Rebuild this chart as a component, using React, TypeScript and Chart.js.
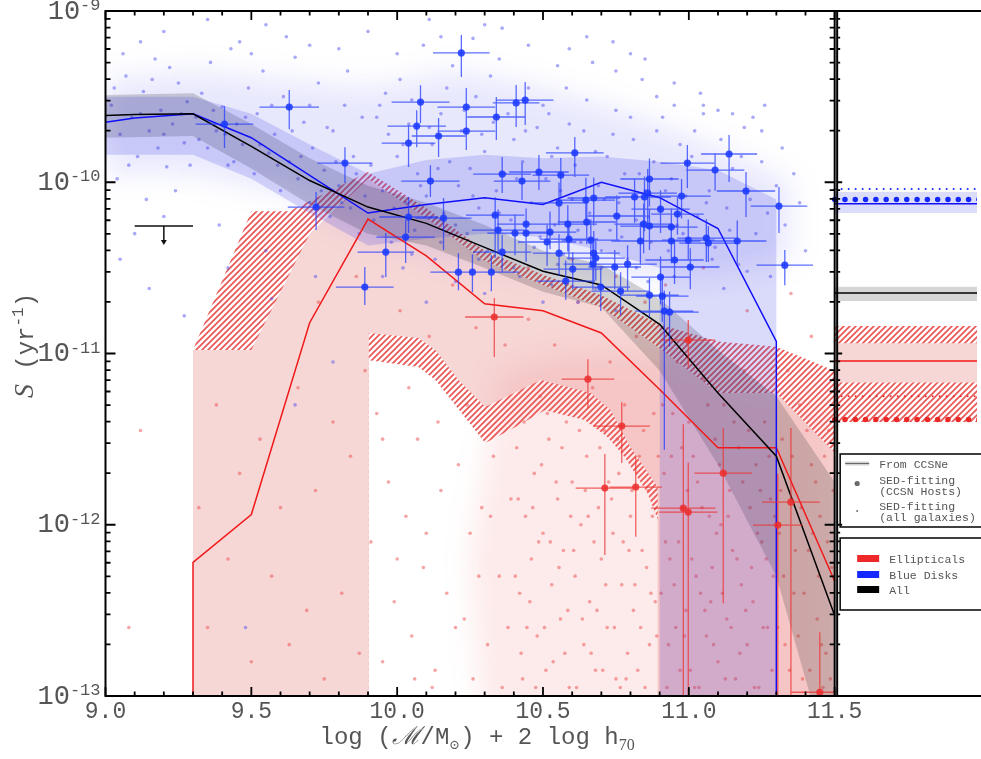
import { useEffect, useRef } from 'react';
import { Chart, registerables } from 'chart.js';

Chart.register(...registerables);

// ---------- axes ----------
const MASS_MIN = 9.0;
const MASS_EDGE = 11.5; // right edge of the main panel
const MASS_MAX = 11.988; // right edge of the side panel
const LOG_MIN = -13;
const LOG_MAX = -9;
const xTickLabels = ['9.0', '9.5', '10.0', '10.5', '11.0', '11.5'];
const yDecades = [-9, -10, -11, -12, -13];

// ---------- binned SN rate curves: [log mass, log10 S] ----------
const allCurve = [
  [9.0, -9.61], [9.1, -9.605], [9.3, -9.6], [9.5, -9.79], [9.7, -9.99], [9.9, -10.145],
  [10.1, -10.24], [10.3, -10.38], [10.5, -10.52], [10.7, -10.6], [10.9, -10.83],
  [11.1, -11.23], [11.3, -11.6], [11.5, -12.53],
];
const blueDiskCurve = [
  [9.0, -9.65], [9.1, -9.625], [9.3, -9.6], [9.5, -9.74], [9.7, -9.96], [9.9, -10.18],
  [10.1, -10.13], [10.3, -10.09], [10.5, -10.13], [10.7, -10.0], [10.9, -10.09],
  [11.1, -10.27], [11.3, -10.93], [11.3, -14],
];
const ellipticalCurve = [
  [9.3, -14], [9.3, -12.22], [9.5, -11.94], [9.7, -10.82], [9.9, -10.215], [10.1, -10.43],
  [10.3, -10.71], [10.5, -10.75], [10.7, -10.88], [10.9, -11.21], [11.1, -11.55],
  [11.3, -11.55], [11.5, -12.33],
];

// ---------- uncertainty envelopes (closed outlines): [log mass, log10 S] ----------
const allBand = [
  [9.0, -9.49], [9.3, -9.48], [9.5, -9.66], [9.7, -9.86], [9.9, -10.02], [10.1, -10.12],
  [10.3, -10.25], [10.5, -10.4], [10.7, -10.48], [10.9, -10.68], [11.1, -10.98],
  [11.3, -11.25], [11.5, -11.75], [11.5, -13.5], [11.3, -12.3], [11.1, -11.65],
  [10.9, -11.1], [10.7, -10.73], [10.5, -10.64], [10.3, -10.5], [10.1, -10.37],
  [9.9, -10.3], [9.7, -10.13], [9.5, -9.92], [9.3, -9.73], [9.0, -9.74],
];
const blueDiskBand = [
  [9.0, -9.5], [9.3, -9.5], [9.5, -9.6], [9.7, -9.78], [9.9, -9.95], [10.1, -9.87],
  [10.3, -9.84], [10.5, -9.86], [10.7, -9.85], [10.9, -9.88], [11.1, -9.93], [11.3, -10.1],
  [11.3, -14], [10.9, -14], [10.9, -10.5], [10.7, -10.4], [10.5, -10.32], [10.3, -10.3],
  [10.1, -10.33], [9.9, -10.37], [9.7, -10.18], [9.5, -9.98], [9.3, -9.84], [9.0, -9.84],
];
const ellipticalBand = [
  [9.3, -14], [9.3, -10.98], [9.5, -10.98], [9.7, -10.3], [9.9, -9.98], [10.1, -10.21],
  [10.3, -10.46], [10.5, -10.6], [10.7, -10.73], [10.9, -10.97], [11.1, -11.23],
  [11.3, -11.23], [11.5, -11.58], [11.5, -14], [10.893, -14], [10.893, -11.78],
  [10.8, -11.547], [10.732, -11.331], [10.664, -11.231], [10.493, -11.155],
  [10.302, -11.313], [10.21, -11.155], [10.131, -10.98], [10.073, -10.91],
  [9.903, -10.881], [9.903, -14],
];
const ellipticalOuterBand = [
  [9.3, -14], [9.3, -10.98], [9.5, -10.17], [9.63, -10.17], [9.9, -9.94], [10.1, -10.15],
  [10.3, -10.4], [10.5, -10.54], [10.7, -10.66], [10.9, -10.83], [11.1, -10.93],
  [11.3, -10.96], [11.5, -11.1], [11.5, -14], [10.903, -14], [10.903, -12.01],
  [10.858, -11.815], [10.78, -11.605], [10.721, -11.488], [10.643, -11.389],
  [10.506, -11.331], [10.404, -11.43], [10.302, -11.523], [10.131, -11.155],
  [10.073, -11.079], [9.903, -11.039], [9.903, -14],
];

// ---------- CCSN hosts: [log mass, log10 S, ±mass err, +S err, -S err] ----------
const blueDiskHosts = [
  [9.408, -9.66, 0.099, 0.105, 0.14], [9.63, -9.561, 0.102, 0.099, 0.129],
  [10.22, -9.245, 0.097, 0.105, 0.14], [10.08, -9.532, 0.099, 0.099, 0.123],
  [10.237, -9.561, 0.099, 0.111, 0.105], [10.408, -9.537, 0.08, 0.105, 0.14],
  [10.439, -9.52, 0.097, 0.105, 0.146], [10.34, -9.619, 0.1, 0.117, 0.134],
  [10.067, -9.672, 0.1, 0.093, 0.123], [10.142, -9.73, 0.092, 0.105, 0.123],
  [10.237, -9.701, 0.099, 0.105, 0.111], [10.039, -9.771, 0.092, 0.105, 0.14],
  [10.609, -9.829, 0.099, 0.093, 0.14], [9.821, -9.888, 0.094, 0.093, 0.117],
  [10.114, -9.993, 0.1, 0.093, 0.093], [10.36, -9.952, 0.099, 0.099, 0.111],
  [10.428, -9.993, 0.097, 0.105, 0.111], [10.486, -9.94, 0.102, 0.099, 0.105],
  [10.561, -9.958, 0.097, 0.099, 0.128], [9.722, -10.145, 0.097, 0.088, 0.134],
  [10.039, -10.203, 0.1, 0.117, 0.093], [10.159, -10.209, 0.096, 0.117, 0.187],
  [10.029, -10.32, 0.1, 0.099, 0.152], [9.961, -10.408, 0.097, 0.111, 0.146],
  [9.889, -10.612, 0.099, 0.117, 0.105], [10.21, -10.525, 0.096, 0.111, 0.105],
  [10.258, -10.525, 0.094, 0.105, 0.117], [10.323, -10.525, 0.094, 0.099, 0.111],
  [10.336, -10.192, 0.1, 0.105, 0.25], [10.346, -10.279, 0.09, 0.12, 0.14],
  [10.404, -10.297, 0.095, 0.11, 0.13], [10.36, -10.408, 0.1, 0.1, 0.12],
  [10.442, -10.244, 0.1, 0.09, 0.22], [10.442, -10.297, 0.09, 0.13, 0.11],
  [10.514, -10.349, 0.1, 0.1, 0.14], [10.524, -10.291, 0.09, 0.12, 0.1],
  [10.585, -10.244, 0.1, 0.11, 0.16], [10.589, -10.332, 0.1, 0.1, 0.12],
  [10.555, -10.414, 0.09, 0.11, 0.13], [10.602, -10.507, 0.1, 0.1, 0.12],
  [10.578, -10.577, 0.1, 0.12, 0.11], [10.555, -10.121, 0.1, 0.12, 0.13],
  [10.995, -9.888, 0.092, 0.105, 0.146], [11.138, -9.835, 0.096, 0.111, 0.164],
  [11.09, -9.929, 0.1, 0.1, 0.12], [11.196, -10.051, 0.1, 0.111, 0.152],
  [11.309, -10.139, 0.097, 0.111, 0.158], [11.329, -10.484, 0.097, 0.088, 0.117],
  [10.865, -9.981, 0.1, 0.12, 0.16], [10.859, -10.063, 0.1, 0.14, 0.18],
  [10.814, -10.086, 0.1, 0.1, 0.15], [10.848, -10.086, 0.09, 0.12, 0.2],
  [10.975, -10.081, 0.1, 0.1, 0.13], [10.903, -10.157, 0.1, 0.11, 0.14],
  [10.961, -10.186, 0.09, 0.1, 0.12], [10.753, -10.197, 0.1, 0.12, 0.15],
  [10.647, -10.104, 0.1, 0.13, 0.14], [10.674, -10.092, 0.09, 0.12, 0.16],
  [10.65, -10.232, 0.1, 0.11, 0.13], [10.845, -10.244, 0.1, 0.12, 0.17],
  [10.865, -10.256, 0.1, 0.1, 0.14], [10.94, -10.262, 0.09, 0.11, 0.12],
  [10.664, -10.338, 0.1, 0.12, 0.15], [10.834, -10.343, 0.1, 0.11, 0.14],
  [10.94, -10.343, 0.1, 0.1, 0.13], [10.998, -10.338, 0.09, 0.12, 0.12],
  [11.06, -10.326, 0.1, 0.11, 0.14], [11.067, -10.355, 0.1, 0.1, 0.11],
  [11.166, -10.343, 0.1, 0.12, 0.13], [10.674, -10.414, 0.09, 0.13, 0.17],
  [10.681, -10.443, 0.1, 0.1, 0.13], [10.671, -10.478, 0.1, 0.12, 0.15],
  [10.79, -10.478, 0.1, 0.11, 0.16], [10.746, -10.495, 0.09, 0.1, 0.13],
  [10.951, -10.454, 0.1, 0.12, 0.14], [11.005, -10.495, 0.1, 0.11, 0.13],
  [10.903, -10.554, 0.1, 0.12, 0.16], [10.766, -10.636, 0.1, 0.11, 0.14],
  [10.865, -10.659, 0.1, 0.1, 0.13], [10.909, -10.665, 0.09, 0.12, 0.15],
  [10.698, -10.612, 0.1, 0.11, 0.14], [10.916, -10.752, 0.1, 0.12, 0.81],
  [10.934, -10.758, 0.1, 0.12, 0.2],
];
const ellipticalHosts = [
  [10.333, -10.787, 0.1, 0.111, 0.234], [10.654, -11.15, 0.09, 0.117, 0.169],
  [10.77, -11.424, 0.097, 0.14, 0.216], [10.712, -11.786, 0.1, 0.199, 0.39],
  [10.818, -11.78, 0.09, 0.175, 0.29], [10.998, -10.922, 0.092, 0.117, 0.158],
  [10.981, -11.903, 0.11, 0.49, 2.0], [10.998, -11.926, 0.1, 0.29, 2.0],
  [11.118, -11.699, 0.099, 0.263, 0.76], [11.35, -11.868, 0.099, 0.433, 2.0],
  [11.305, -12.002, 0.085, 0.3, 2.0], [11.449, -12.978, 0.1, 0.35, 2.0],
];

// ---------- SED-fitting, all galaxies: [log mass, log10 S] ----------
const blueDiskGalaxies = [
  [9.02, -9.55], [9.05, -9.72], [9.07, -9.38], [9.09, -9.62], [9.11, -9.85], [9.13, -9.47],
  [9.15, -9.7], [9.17, -9.28], [9.19, -9.58], [9.21, -9.91], [9.23, -9.66], [9.25, -9.42],
  [9.27, -9.77], [9.04, -9.98], [9.14, -10.1], [9.24, -10.05], [9.28, -9.53], [9.18, -9.8],
  [9.06, -9.25], [9.22, -9.33], [9.31, -9.62], [9.33, -9.48], [9.35, -9.8], [9.36, -9.3],
  [9.38, -9.7], [9.4, -9.56], [9.42, -9.9], [9.43, -9.22], [9.45, -9.66], [9.47, -9.78],
  [9.49, -9.45], [9.51, -9.95], [9.52, -9.6], [9.54, -9.35], [9.56, -9.83], [9.58, -9.72],
  [9.6, -10.05], [9.61, -9.5], [9.63, -9.88], [9.65, -9.27], [9.66, -9.98], [9.68, -9.65],
  [9.7, -10.12], [9.71, -9.8], [9.73, -9.42], [9.75, -9.93], [9.77, -10.2], [9.78, -9.7],
  [9.8, -10.02], [9.82, -9.55], [9.84, -10.15], [9.85, -9.85], [9.87, -10.3], [9.88, -9.62],
  [9.39, -10.25], [9.55, -10.4], [9.72, -10.55], [9.46, -9.18], [9.62, -9.15], [9.83, -9.35],
  [9.91, -9.9], [9.92, -10.22], [9.94, -9.55], [9.95, -10.05], [9.97, -9.72], [9.98, -10.35],
  [10.0, -9.85], [10.01, -9.4], [10.03, -10.12], [10.04, -9.66], [10.06, -10.28], [10.07, -9.95],
  [10.09, -9.2], [10.1, -10.08], [10.12, -9.78], [10.13, -10.45], [10.15, -9.6], [10.16, -10.18],
  [10.18, -9.88], [10.19, -9.32], [10.21, -10.02], [10.22, -9.7], [10.24, -10.3], [10.25, -9.92],
  [10.27, -9.5], [10.28, -10.15], [10.3, -9.82], [10.31, -10.4], [10.33, -9.65], [10.34, -10.05],
  [10.36, -9.1], [10.37, -9.95], [10.39, -10.22], [10.4, -9.75], [10.42, -10.55], [10.43, -9.88],
  [10.45, -9.45], [10.46, -10.12], [10.48, -9.68], [10.49, -10.32], [10.02, -10.5], [10.2, -10.58],
  [10.35, -9.28], [10.11, -9.05], [10.26, -9.16], [10.51, -9.98], [10.52, -9.6], [10.54, -10.25],
  [10.55, -9.8], [10.57, -10.42], [10.58, -9.45], [10.6, -10.1], [10.61, -9.9], [10.63, -10.35],
  [10.64, -9.7], [10.66, -10.18], [10.67, -9.3], [10.69, -10.02], [10.7, -10.5], [10.72, -9.85],
  [10.73, -10.28], [10.75, -9.58], [10.76, -10.12], [10.78, -9.95], [10.79, -10.45], [10.81, -9.75],
  [10.82, -10.22], [10.84, -9.4], [10.85, -10.05], [10.87, -10.35], [10.88, -9.88], [10.9, -10.15],
  [10.91, -9.62], [10.93, -10.4], [10.94, -9.98], [10.96, -10.25], [10.97, -9.78], [10.99, -10.08],
  [10.53, -10.6], [10.68, -10.62], [10.86, -10.58], [10.59, -9.22], [10.74, -9.18], [10.89, -9.5],
  [10.62, -10.7], [10.8, -9.25], [11.01, -9.85], [11.03, -10.2], [11.05, -9.6], [11.07, -10.05],
  [11.09, -10.38], [11.11, -9.75], [11.13, -10.15], [11.15, -9.92], [11.17, -10.48], [11.19, -9.68],
  [11.21, -10.1], [11.23, -10.3], [11.25, -9.88], [11.28, -10.55], [11.3, -10.02], [11.33, -10.25],
  [11.36, -9.95], [11.4, -10.4], [11.04, -9.48], [11.26, -9.55], [11.12, -10.62], [9.05, -10.45],
  [9.15, -10.62], [9.27, -10.78], [9.42, -10.5], [9.57, -10.68], [9.65, -11.3], [9.78, -11.05],
  [9.48, -12.6], [9.93, -9.62], [9.96, -9.48], [9.99, -10.15], [10.02, -9.78], [10.05, -9.52],
  [10.08, -10.02], [10.11, -9.68], [10.14, -9.92], [10.17, -9.45], [10.2, -10.25], [10.23, -9.58],
  [10.26, -10.08], [10.29, -9.72], [10.32, -9.38], [10.35, -10.18], [10.38, -9.6], [10.41, -9.98],
  [10.44, -9.7], [10.47, -10.38], [10.5, -9.55], [10.53, -9.85], [10.56, -10.05], [10.59, -9.66],
  [10.62, -10.28], [10.65, -9.52], [10.68, -9.82], [10.71, -10.1], [10.74, -9.72], [10.77, -10.32],
  [10.8, -9.62], [10.83, -9.95], [10.86, -10.2], [10.89, -9.7], [10.92, -10.05], [10.95, -9.55],
  [10.98, -10.3], [11.02, -9.7], [11.06, -10.12], [11.1, -9.58], [11.14, -10.28], [11.18, -9.85],
  [11.22, -9.62], [11.27, -10.18], [11.32, -9.8], [11.38, -10.12], [9.2, -9.12], [9.35, -9.05],
  [9.55, -9.08], [9.7, -9.2], [9.9, -9.12], [10.0, -9.25], [10.15, -9.15], [10.3, -9.08],
  [10.45, -9.2], [10.55, -9.32], [10.65, -9.15], [10.75, -9.35], [10.85, -9.28], [10.95, -9.42],
  [11.05, -9.55], [11.15, -9.6], [11.25, -9.7], [9.12, -9.18], [9.5, -9.25], [9.8, -9.22],
  [9.32, -9.75], [9.37, -9.58], [9.41, -9.72], [9.44, -9.88], [9.48, -9.62], [9.53, -9.78],
  [9.57, -9.55], [9.59, -9.9], [9.64, -9.7], [9.67, -9.85], [9.7, -9.55], [9.74, -10.05],
  [9.76, -9.68], [9.79, -9.88], [9.81, -10.12], [9.86, -9.95], [9.89, -10.08], [9.03, -9.45],
  [9.08, -9.9], [9.12, -9.6], [9.16, -9.4], [9.2, -9.72], [9.26, -9.6], [9.29, -9.9],
  [9.1, -10.3], [9.2, -10.2], [10.05, -10.42], [10.15, -10.35], [10.28, -10.45], [10.4, -10.5],
  [10.55, -10.48], [10.7, -10.4], [10.82, -10.5], [10.95, -10.55], [11.08, -10.45], [11.2, -10.52],
  [9.95, -10.55], [10.1, -10.7], [10.3, -10.65], [10.5, -10.7], [10.75, -10.75],
];
const ellipticalGalaxies = [
  [9.32, -11.9], [9.35, -12.6], [9.38, -11.3], [9.42, -12.2], [9.46, -11.7], [9.5, -12.8],
  [9.53, -11.5], [9.57, -12.3], [9.6, -11.9], [9.63, -12.7], [9.66, -11.2], [9.69, -12.5],
  [9.72, -11.8], [9.75, -12.9], [9.78, -11.4], [9.81, -12.4], [9.84, -11.6], [9.87, -12.75],
  [9.89, -11.1], [9.73, -10.7], [9.86, -10.55], [9.12, -11.45], [9.08, -12.6], [9.91, -12.1],
  [9.93, -11.35], [9.95, -12.8], [9.97, -11.75], [9.99, -12.45], [10.01, -10.75], [10.03, -11.95],
  [10.05, -12.65], [10.07, -11.5], [10.09, -12.25], [10.11, -10.9], [10.13, -12.85], [10.15, -11.8],
  [10.17, -12.4], [10.19, -10.6], [10.21, -11.65], [10.23, -12.55], [10.25, -12.05], [10.27, -10.85],
  [10.29, -11.9], [10.31, -12.7], [10.33, -11.6], [10.35, -12.3], [10.37, -10.95], [10.39, -11.85],
  [10.12, -12.95], [10.26, -12.9], [10.04, -11.2], [10.36, -12.95], [10.41, -11.55], [10.42, -12.4],
  [10.43, -12.9], [10.44, -11.95], [10.45, -10.8], [10.46, -12.2], [10.47, -11.7], [10.48, -12.65],
  [10.49, -11.25], [10.5, -12.05], [10.51, -12.85], [10.52, -11.5], [10.53, -12.35], [10.54, -10.95],
  [10.55, -11.85], [10.56, -12.55], [10.57, -12.15], [10.58, -11.4], [10.59, -12.95], [10.6, -11.75],
  [10.61, -12.3], [10.62, -10.7], [10.63, -12.0], [10.64, -12.7], [10.65, -11.6], [10.66, -12.45],
  [10.67, -11.2], [10.68, -12.85], [10.69, -11.9], [10.7, -12.2], [10.71, -11.45], [10.72, -12.6],
  [10.73, -11.05], [10.74, -12.05], [10.75, -12.9], [10.76, -11.7], [10.77, -12.35], [10.78, -11.3],
  [10.79, -12.75], [10.8, -11.95], [10.81, -12.5], [10.82, -10.9], [10.83, -11.6], [10.84, -12.15],
  [10.85, -12.95], [10.86, -11.8], [10.87, -12.4], [10.88, -11.35], [10.89, -12.65], [10.445, -12.6],
  [10.575, -12.75], [10.685, -12.5], [10.735, -11.85], [10.795, -12.15], [10.655, -11.95],
  [10.525, -12.1], [10.615, -12.95], [10.765, -12.95], [10.835, -12.6], [10.91, -11.3],
  [10.92, -12.1], [10.93, -12.7], [10.94, -11.6], [10.95, -12.35], [10.96, -11.05], [10.97, -12.85],
  [10.98, -11.9], [10.99, -12.5], [11.0, -11.4], [11.01, -12.2], [11.02, -12.95], [11.03, -11.75],
  [11.04, -12.4], [11.05, -11.15], [11.06, -12.65], [11.07, -11.95], [11.08, -12.25], [11.09, -11.5],
  [11.1, -12.8], [11.11, -12.0], [11.12, -11.3], [11.13, -12.55], [11.14, -11.8], [11.15, -12.15],
  [11.16, -12.9], [11.17, -11.55], [11.18, -12.35], [11.19, -11.1], [11.2, -12.7], [11.21, -11.9],
  [11.22, -12.45], [11.23, -11.65], [11.24, -12.95], [11.25, -12.1], [11.26, -11.4], [11.27, -12.6],
  [11.28, -11.85], [11.29, -12.3], [10.955, -12.6], [11.075, -12.45], [11.31, -12.05], [11.32, -11.5],
  [11.33, -12.7], [11.35, -11.85], [11.36, -12.4], [11.38, -11.3], [11.39, -12.9], [11.41, -12.15],
  [11.42, -11.65], [11.44, -12.55], [11.45, -11.95], [11.47, -12.75], [11.48, -11.45], [11.49, -12.25],
  [11.34, -11.1], [11.46, -12.95], [10.6, -10.45], [10.75, -10.55], [10.92, -10.6], [11.05, -10.5],
  [11.2, -10.75], [10.45, -10.5], [10.85, -10.7], [11.35, -10.65], [11.42, -10.9],
  [10.405, -12.3], [10.415, -11.85], [10.425, -12.75], [10.435, -11.4], [10.455, -12.45],
  [10.465, -11.9], [10.475, -12.95], [10.485, -12.1], [10.495, -11.65], [10.505, -12.6],
  [10.515, -11.35], [10.535, -12.8], [10.545, -11.75], [10.555, -12.25], [10.565, -11.55],
  [10.585, -12.5], [10.595, -11.95], [10.605, -12.15], [10.625, -11.45], [10.635, -12.55],
  [10.645, -11.8], [10.665, -12.75], [10.675, -12.1], [10.695, -11.55], [10.705, -12.85],
  [10.715, -12.35], [10.725, -11.75], [10.745, -12.6], [10.755, -11.5], [10.775, -12.1],
  [10.785, -12.9], [10.805, -11.8], [10.815, -12.35], [10.825, -12.85], [10.845, -11.45],
  [10.855, -12.25], [10.865, -12.7], [10.875, -11.95], [10.885, -12.45], [10.895, -11.6],
  [10.905, -12.4], [10.915, -11.7], [10.925, -12.95], [10.935, -12.2], [10.945, -11.35],
  [10.965, -12.1], [10.975, -11.55], [10.985, -12.65], [10.995, -11.8], [11.005, -12.85],
  [11.015, -11.6], [11.025, -12.3], [11.035, -12.95], [11.045, -11.9], [11.055, -12.5],
  [11.065, -11.3], [11.085, -12.7], [11.095, -12.05], [11.105, -11.65], [11.115, -12.4],
  [11.125, -12.9], [11.135, -11.95], [11.145, -12.6], [11.155, -11.4], [11.165, -12.2],
  [11.175, -12.75], [11.185, -11.75], [11.195, -12.5], [11.205, -11.45], [11.215, -12.25],
  [11.225, -12.95], [11.235, -12.05], [11.245, -11.8], [11.255, -12.6], [11.265, -12.2],
  [11.275, -11.6], [11.285, -12.85], [11.295, -11.95], [11.305, -12.6], [11.315, -11.8],
  [11.325, -12.3], [11.345, -12.85], [11.355, -11.6], [11.365, -12.15], [11.375, -12.65],
  [11.385, -11.9], [11.395, -12.4], [11.405, -11.45], [11.415, -12.85], [11.425, -12.05],
  [11.435, -11.75], [11.445, -12.3], [11.455, -12.7], [11.465, -11.6], [11.475, -12.1],
  [11.485, -12.9], [11.495, -11.8], [9.95, -11.5], [10.0, -12.2], [10.06, -12.9], [10.14, -11.4],
  [10.2, -12.6], [10.24, -11.3], [10.28, -12.3], [10.32, -11.95], [10.38, -12.6], [10.1, -12.05],
];

// dense cores of the two galaxy samples: closed outlines, [log mass, log10 S]
const blueDiskDensity = [
  [9.0, -9.4], [9.3, -9.35], [9.6, -9.4], [9.9, -9.45], [10.2, -9.35], [10.5, -9.45],
  [10.8, -9.6], [11.1, -9.8], [11.35, -10.0], [11.35, -10.45], [11.1, -10.55], [10.8, -10.55],
  [10.5, -10.5], [10.2, -10.45], [9.9, -10.3], [9.6, -10.05], [9.3, -9.95], [9.0, -9.95],
];
const ellipticalDensity = [
  [10.35, -11.1], [10.6, -11.0], [10.9, -11.0], [11.2, -11.2], [11.5, -11.3], [11.5, -13.3],
  [10.3, -13.3], [10.25, -12.2],
];

// ---------- upper limit: [mass from, mass to, log10 S, arrow length] ----------
const upperLimit = [9.1, 9.3, -10.256, 0.11];

// ---------- side panel, rates from CCSNe and SED-fitting (log10 S) ----------
const sideBlue = [-10.125, -10.18, -10.057]; // value, low, high
const sideBlueSed = [-10.1, -10.04]; // hosts, all galaxies
const sideAll = [-10.647, -10.694, -10.61];
const sideEll = [-11.044, -11.17, -10.94];
const sideEllOuter = [-11.4, -10.84];
const sideEllSed = [-11.385, -11.25];

const MONO = '"Liberation Mono", "DejaVu Sans Mono", monospace';
const SERIF = '"Liberation Serif", "DejaVu Serif", serif';
const TEXT = '#555';

const pt = (p: number[]) => ({ x: p[0], y: Math.pow(10, p[1]) });
const pts = (list: number[][]) => list.map(pt);
const sideSpan = (v: number) => pts([[MASS_EDGE, v], [12.1, v]]);
const sideBox = (lo: number, hi: number) =>
  pts([[MASS_EDGE, hi], [12.1, hi], [12.1, lo], [MASS_EDGE, lo]]);

function makeHatch(ctx: CanvasRenderingContext2D) {
  const c = document.createElement('canvas');
  c.width = 6;
  c.height = 6;
  const g = c.getContext('2d')!;
  g.strokeStyle = 'rgba(232,72,72,0.92)';
  g.lineWidth = 1.7;
  g.beginPath();
  g.moveTo(-1, 1); g.lineTo(1, -1);
  g.moveTo(0, 6); g.lineTo(6, 0);
  g.moveTo(5, 7); g.lineTo(7, 5);
  g.stroke();
  return ctx.createPattern(c, 'repeat')!;
}

type Run = [string, string, number];
function drawRuns(ctx: CanvasRenderingContext2D, runs: Run[], x: number, y: number, align: 'center' | 'right' | 'left') {
  let total = 0;
  for (const [t, f] of runs) { ctx.font = f; total += ctx.measureText(t).width; }
  let cx = align === 'center' ? x - total / 2 : align === 'right' ? x - total : x;
  ctx.textAlign = 'left';
  ctx.textBaseline = 'alphabetic';
  for (const [t, f, dy] of runs) {
    ctx.font = f;
    ctx.fillText(t, cx, y + dy);
    cx += ctx.measureText(t).width;
  }
}

// error bars and density tint, drawn just before the dataset they belong to
const underlayPlugin = {
  id: 'underlays',
  beforeDatasetDraw(chart: any, args: any) {
    const ds = chart.data.datasets[args.index];
    if (!ds.errorRows && !ds.density) return;
    const { ctx, scales } = chart;
    const X = (m: number) => scales.x.getPixelForValue(m);
    const Y = (l: number) => scales.y.getPixelForValue(Math.pow(10, l));
    ctx.save();
    ctx.beginPath();
    ctx.rect(X(MASS_MIN), Y(LOG_MAX), X(MASS_EDGE) - X(MASS_MIN), Y(LOG_MIN) - Y(LOG_MAX));
    ctx.clip();
    if (ds.density) {
      ctx.filter = 'blur(14px)';
      ctx.fillStyle = ds.densityColor;
      ctx.beginPath();
      (ds.density as number[][]).forEach(([m, l], i) => {
        if (i === 0) ctx.moveTo(X(m), Y(l));
        else ctx.lineTo(X(m), Y(l));
      });
      ctx.closePath();
      ctx.fill();
      ctx.filter = 'none';
    }
    if (ds.errorRows) {
      ctx.strokeStyle = ds.errorColor;
      ctx.lineWidth = 1.3;
      ctx.beginPath();
      for (const [m, l, dm, up, down] of ds.errorRows as number[][]) {
        ctx.moveTo(X(m - dm), Y(l));
        ctx.lineTo(X(m + dm), Y(l));
        ctx.moveTo(X(m), Y(l + up));
        ctx.lineTo(X(m), Y(l - down));
      }
      ctx.stroke();
    }
    ctx.restore();
  },
};

const framePlugin = {
  id: 'frame',
  afterDatasetsDraw(chart: any) {
    const { ctx, scales } = chart;
    const X = (m: number) => scales.x.getPixelForValue(m);
    const Y = (l: number) => scales.y.getPixelForValue(Math.pow(10, l));
    // upper limit bar and arrow
    const [m0, m1, ul, arrow] = upperLimit;
    ctx.save();
    ctx.strokeStyle = '#111';
    ctx.fillStyle = '#111';
    ctx.lineWidth = 1.5;
    ctx.beginPath();
    ctx.moveTo(X(m0), Y(ul));
    ctx.lineTo(X(m1), Y(ul));
    const mc = (m0 + m1) / 2;
    ctx.moveTo(X(mc), Y(ul));
    ctx.lineTo(X(mc), Y(ul - arrow) - 3);
    ctx.stroke();
    ctx.beginPath();
    ctx.moveTo(X(mc) - 3, Y(ul - arrow) - 5);
    ctx.lineTo(X(mc) + 3, Y(ul - arrow) - 5);
    ctx.lineTo(X(mc), Y(ul - arrow));
    ctx.closePath();
    ctx.fill();
    ctx.restore();
  },
  afterDraw(chart: any) {
    const { ctx, scales, width } = chart;
    const X = (m: number) => scales.x.getPixelForValue(m);
    const Y = (l: number) => scales.y.getPixelForValue(Math.pow(10, l));
    const left = X(MASS_MIN);
    const right = X(MASS_EDGE);
    const top = Y(LOG_MAX);
    const bottom = Y(LOG_MIN);
    const panel = right + 2.5;
    ctx.save();
    ctx.strokeStyle = '#000';
    ctx.lineWidth = 2;
    ctx.strokeRect(left, top, right - left, bottom - top);
    ctx.beginPath();
    ctx.moveTo(panel, top); ctx.lineTo(panel, bottom);
    ctx.moveTo(right, top); ctx.lineTo(width + 2, top);
    ctx.moveTo(right, bottom); ctx.lineTo(width + 2, bottom);
    ctx.stroke();

    // x ticks, every 0.1 dex
    ctx.lineWidth = 1.8;
    ctx.beginPath();
    for (let i = 0; i <= 25; i++) {
      const x = X(MASS_MIN + i * 0.1);
      const len = i % 5 === 0 ? 9 : 4.5;
      ctx.moveTo(x, bottom); ctx.lineTo(x, bottom - len);
      ctx.moveTo(x, top); ctx.lineTo(x, top + len);
    }
    // y ticks, decades and sub-decades
    for (let d = LOG_MIN; d <= LOG_MAX; d++) {
      for (let k = 1; k <= 9; k++) {
        const l = d + Math.log10(k);
        if (l > LOG_MAX + 1e-9) break;
        const y = Y(l);
        const major = k === 1;
        const len = major ? 10 : 5;
        ctx.moveTo(left, y); ctx.lineTo(left + len, y);
        ctx.moveTo(right, y); ctx.lineTo(right - len, y);
        ctx.moveTo(panel, y); ctx.lineTo(panel + (major ? 5 : 3), y);
      }
    }
    ctx.stroke();

    // tick labels
    ctx.fillStyle = TEXT;
    xTickLabels.forEach((t) => {
      drawRuns(ctx, [[t, `23px ${MONO}`, 0]], X(parseFloat(t)), bottom + 22, 'center');
    });
    yDecades.forEach((d) => {
      drawRuns(ctx, [['10', `27px ${MONO}`, 7.5], [`-${-d}`, `17px ${MONO}`, -1]], left - 5, Y(d), 'right');
    });

    // axis titles
    drawRuns(ctx, [
      ['log (', `24px ${MONO}`, 0],
      ['\u2133', `italic 25px ${SERIF}`, 0],
      ['/M', `24px ${MONO}`, 0],
      ['\u2299', `13px ${SERIF}`, 5],
      [') + 2 log h', `24px ${MONO}`, 0],
      ['70', `16px ${SERIF}`, 6],
    ], (left + right) / 2 + 7, bottom + 48, 'center');
    ctx.save();
    ctx.translate(33, (top + bottom) / 2 - 8);
    ctx.rotate(-Math.PI / 2);
    drawRuns(ctx, [
      ['S', `italic 28px ${SERIF}`, 0],
      [' (yr', `24px ${MONO}`, 0],
      ['-1', `16px ${MONO}`, -10],
      [')', `24px ${MONO}`, 0],
    ], 0, 0, 'center');
    ctx.restore();

    // legend boxes in the side panel
    const bx = panel + 3;
    ctx.lineWidth = 1.6;
    ctx.strokeStyle = '#111';
    ctx.strokeRect(bx, 454, width + 10 - bx, 73);
    ctx.strokeRect(bx, 538, width + 10 - bx, 72);
    const lf = `11.5px ${MONO}`;
    const tx = bx + 39;
    ctx.fillStyle = TEXT;
    ctx.strokeStyle = 'rgba(0,0,0,0.18)';
    ctx.lineWidth = 4;
    ctx.beginPath(); ctx.moveTo(bx + 5, 463.5); ctx.lineTo(bx + 29, 463.5); ctx.stroke();
    ctx.strokeStyle = '#666';
    ctx.lineWidth = 1;
    ctx.beginPath(); ctx.moveTo(bx + 5, 463.5); ctx.lineTo(bx + 29, 463.5); ctx.stroke();
    drawRuns(ctx, [['From CCSNe', lf, 0]], tx, 468, 'left');
    ctx.fillStyle = 'rgba(80,80,80,0.85)';
    ctx.beginPath(); ctx.arc(bx + 17, 483.5, 2.6, 0, Math.PI * 2); ctx.fill();
    ctx.beginPath(); ctx.arc(bx + 17, 511, 1, 0, Math.PI * 2); ctx.fill();
    ctx.fillStyle = TEXT;
    drawRuns(ctx, [['SED-fitting', lf, 0]], tx, 484, 'left');
    drawRuns(ctx, [['(CCSN Hosts)', lf, 0]], tx, 495, 'left');
    drawRuns(ctx, [['SED-fitting', lf, 0]], tx, 510, 'left');
    drawRuns(ctx, [['(all galaxies)', lf, 0]], tx, 521, 'left');
    const swatches: [string, string, number][] = [
      ['rgb(238,40,40)', 'Ellipticals', 555],
      ['rgb(20,40,255)', 'Blue Disks', 571],
      ['#000', 'All', 586],
    ];
    for (const [c, t, y] of swatches) {
      ctx.fillStyle = c;
      ctx.fillRect(bx + 17, y, 22, 7);
      ctx.fillStyle = TEXT;
      drawRuns(ctx, [[t, lf, 0]], bx + 49, y + 8, 'left');
    }
    ctx.restore();
  },
};

export default function App() {
  const ref = useRef<HTMLCanvasElement>(null);

  useEffect(() => {
    const canvas = ref.current!;
    const ctx = canvas.getContext('2d')!;
    const hatch = makeHatch(ctx);

    const shape = (data: any[], color: any) => ({
      data, fill: 'shape', backgroundColor: color, borderColor: 'transparent',
      borderWidth: 0, pointRadius: 0, showLine: true,
    });
    const curve = (data: any[], color: string, width = 1.5, dash: number[] = [], cap = 'butt') => ({
      data, fill: false, borderColor: color, borderWidth: width, borderDash: dash,
      borderCapStyle: cap, pointRadius: 0, showLine: true,
    });
    const cloud = (data: any[], color: string, radius: number) => ({
      data, showLine: false, pointRadius: radius, pointBackgroundColor: color,
      pointBorderWidth: 0, pointBorderColor: 'transparent', borderColor: 'transparent',
    });

    // listed from the bottom layer to the top one
    const layers: any[] = [
      shape(pts(ellipticalOuterBand), hatch),
      shape(pts(ellipticalBand), 'rgb(247,214,214)'),
      shape(sideBox(sideEllOuter[0], sideEllOuter[1]), hatch),
      shape(sideBox(sideEll[1], sideEll[2]), 'rgb(247,214,214)'),
      {
        ...cloud(pts(ellipticalGalaxies), 'rgba(236,75,75,0.5)', 1.8),
        density: ellipticalDensity, densityColor: 'rgba(236,90,90,0.13)',
      },
      {
        ...cloud(pts(blueDiskGalaxies), 'rgba(75,75,240,0.48)', 1.8),
        density: blueDiskDensity, densityColor: 'rgba(90,90,240,0.14)',
      },
      shape(pts(allBand), 'rgba(40,40,40,0.2)'),
      shape(pts(blueDiskBand), 'rgba(50,50,230,0.18)'),
      shape(sideBox(sideAll[1], sideAll[2]), 'rgba(0,0,0,0.16)'),
      shape(sideBox(sideBlue[1], sideBlue[2]), 'rgba(50,50,230,0.17)'),
      curve(pts(ellipticalCurve), 'rgb(240,25,25)'),
      curve(pts(blueDiskCurve), 'rgb(15,15,250)'),
      curve(pts(allCurve), '#000'),
      curve(sideSpan(sideEll[0]), 'rgb(240,25,25)', 1.5),
      curve(sideSpan(sideEllSed[1]), 'rgb(235,40,40)', 2, [0, 7], 'round'),
      curve(sideSpan(sideEllSed[0]), 'rgb(235,40,40)', 5.5, [0, 10.3], 'round'),
      curve(sideSpan(sideAll[0]), '#000', 1.5),
      curve(sideSpan(sideBlue[0]), 'rgb(15,15,250)', 1.5),
      curve(sideSpan(sideBlueSed[1]), 'rgb(20,40,250)', 2, [0, 7], 'round'),
      curve(sideSpan(sideBlueSed[0]), 'rgb(20,40,250)', 5.5, [0, 10.3], 'round'),
      {
        ...cloud(pts(ellipticalHosts), 'rgba(236,45,45,0.85)', 3.6),
        errorRows: ellipticalHosts, errorColor: 'rgba(236,50,50,0.75)',
      },
      {
        ...cloud(pts(blueDiskHosts), 'rgba(25,55,255,0.85)', 3.6),
        errorRows: blueDiskHosts, errorColor: 'rgba(30,55,255,0.72)',
      },
    ];
    const datasets = layers.map((d, i) => ({ ...d, order: layers.length - i }));

    const chart = new Chart(canvas, {
      type: 'line',
      data: { datasets },
      options: {
        responsive: false,
        devicePixelRatio: 1,
        animation: false,
        events: [],
        layout: { padding: { left: 105.5, right: 0, top: 11, bottom: 63 } },
        plugins: { legend: { display: false }, tooltip: { enabled: false } },
        elements: { line: { tension: 0 } },
        scales: {
          x: { type: 'linear', min: MASS_MIN, max: MASS_MAX, display: false },
          y: { type: 'logarithmic', min: Math.pow(10, LOG_MIN), max: Math.pow(10, LOG_MAX), display: false },
        },
      },
      plugins: [underlayPlugin, framePlugin],
    } as any);
    return () => chart.destroy();
  }, []);

  return (
    <div style={{ position: 'fixed', left: 0, top: 0, width: 981, height: 759, background: '#fff' }}>
      <canvas ref={ref} width={981} height={759} style={{ width: 981, height: 759, display: 'block' }} />
    </div>
  );
}
